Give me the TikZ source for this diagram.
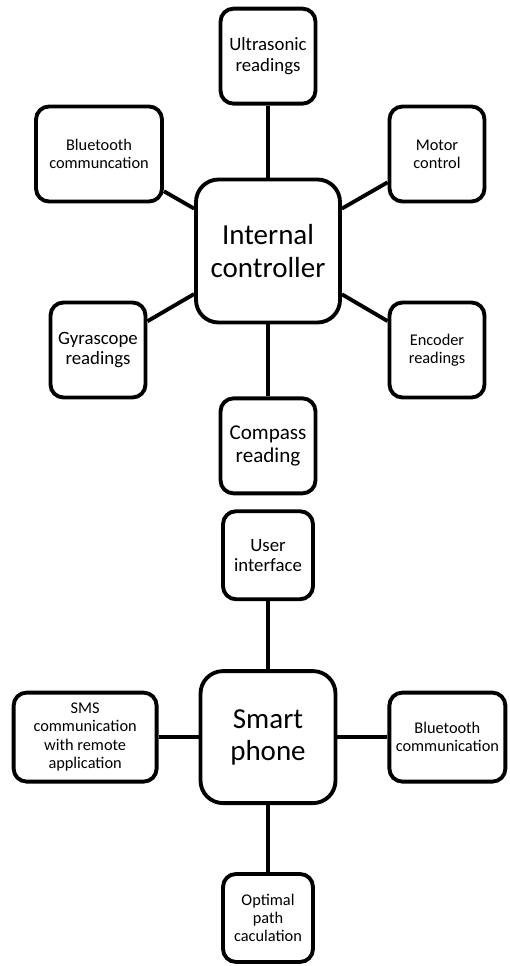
\documentclass[tikz,border=0pt]{standalone}
\usepackage{fontspec}
\setmainfont{Carlito}
\usetikzlibrary{positioning}

\tikzset{
  part/.style={draw, line width=2.2pt, rounded corners=0.26cm, align=center, inner sep=1pt,
    minimum width=1.9cm, minimum height=1.9cm, font=\fontsize{9.3}{10.4}\selectfont},
  mid/.style={font=\fontsize{10.7}{11.6}\selectfont},
  hub/.style={part, rounded corners=0.45cm, font=\fontsize{16.5}{18.3}\selectfont},
  link/.style={line width=2.2pt},
}

\begin{document}
\begin{tikzpicture}
\useasboundingbox (0,0) rectangle (10.18,-19.32);

% robot side: controller with its parts
\node [hub, minimum width=2.88cm, minimum height=2.86cm] (ic) at (5.36,-5.02) {Internal\\controller};
\node [part, mid]		(ultra)	[above=1.44cm of ic]	{Ultrasonic\\readings};
\node [part, minimum width=2.52cm] (btc) at ([shift={(-3.38,1.94)}]ic) {Bluetooth\\communcation};
\node [part]			(motor)	at ([shift={(3.38,1.94)}]ic)	{Motor\\control};
\node [part, mid]		(gyro)	at ([shift={(-3.40,-1.98)}]ic)	{Gyrascope\\readings};
\node [part]			(enc)	at ([shift={(3.38,-1.98)}]ic)	{Encoder\\readings};
\node [part, font=\fontsize{12}{12.8}\selectfont] (compass) [below=1.44cm of ic] {Compass\\reading};

% phone side
\node [part, mid, minimum width=1.8cm, minimum height=1.76cm] (ui) [below=0.28cm of compass] {User\\interface};
\node [hub, minimum width=2.7cm, minimum height=2.64cm] (phone) [below=1.36cm of ui] {Smart\\phone};
\node [part, minimum width=2.86cm, minimum height=1.78cm] (sms) [left=0.8cm of phone] {SMS\\communication\\with remote\\application};
\node [part, minimum width=2.32cm, minimum height=1.78cm] (btp) [right=1.0cm of phone] {Bluetooth\\communication};
\node [part, minimum width=1.8cm, minimum height=1.76cm] (opt) [below=1.34cm of phone] {Optimal\\path\\caculation};

\path[link]
	(ic)	edge	(ultra)
			edge	(btc)
			edge	(motor)
			edge	(gyro)
			edge	(enc)
			edge	(compass)
	(phone)	edge	(ui)
			edge	(sms)
			edge	(btp)
			edge	(opt)
	;

\end{tikzpicture}
\end{document}
